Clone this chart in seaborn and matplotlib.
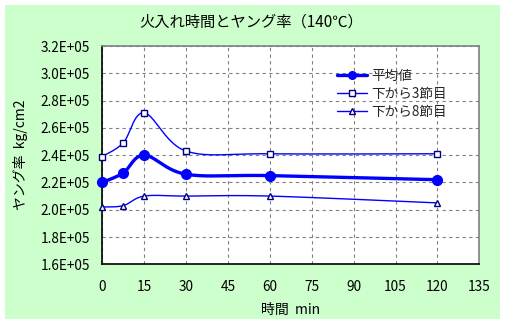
import numpy as np
import pandas as pd
import seaborn as sns
import matplotlib
matplotlib.use("Agg")
import matplotlib.pyplot as plt
from matplotlib.lines import Line2D
from matplotlib.patches import Rectangle
from matplotlib.ticker import FuncFormatter, MultipleLocator

# Firing time (min) and Young's modulus (kg/cm2)
times = [0, 7.5, 15, 30, 60, 120]
mean_vals = [2.20e5, 2.27e5, 2.40e5, 2.26e5, 2.25e5, 2.22e5]
node3_vals = [2.39e5, 2.49e5, 2.71e5, 2.43e5, 2.41e5, 2.41e5]
node8_vals = [2.02e5, 2.03e5, 2.10e5, 2.10e5, 2.10e5, 2.05e5]
series_names = ["平均値", "下から3節目", "下から8節目"]

title = "火入れ時間とヤング率（140℃）"
xlabel = "時間  min"
ylabel = "ヤング率  kg/cm2"

XMIN, XMAX = 0, 135
YMIN, YMAX = 1.6e5, 3.2e5

sns.set_theme(style="white")
plt.rcParams["font.family"] = ["Noto Sans CJK JP", "DejaVu Sans"]


def smooth(xs, ys, n=30):
    """Cubic Bezier smoothing through the given points (Catmull-Rom style),
    computed in normalised axis space."""
    px = (np.asarray(xs, float) - XMIN) / (XMAX - XMIN) * 1.73
    py = (np.asarray(ys, float) - YMIN) / (YMAX - YMIN)
    pts = np.column_stack([px, py])
    m = len(pts)
    out = []
    for i in range(m - 1):
        p0 = pts[i - 1] if i > 0 else pts[i]
        p1 = pts[i]
        p2 = pts[i + 1]
        p3 = pts[i + 2] if i + 2 < m else pts[i + 1]
        c1 = p1 + (p2 - p0) / 6.0
        c2 = p2 - (p3 - p1) / 6.0
        t = np.linspace(0, 1, n)[:, None]
        seg = ((1 - t) ** 3) * p1 + 3 * ((1 - t) ** 2) * t * c1 + 3 * (1 - t) * t ** 2 * c2 + t ** 3 * p2
        out.append(seg if i == 0 else seg[1:])
    c = np.vstack(out)
    return c[:, 0] / 1.73 * (XMAX - XMIN) + XMIN, c[:, 1] * (YMAX - YMIN) + YMIN


W, H = 506, 324
fig = plt.figure(figsize=(W / 100, H / 100), dpi=100)
fig.patch.set_facecolor("white")
fig.patches.append(Rectangle((5 / W, 5 / H), 495 / W, 314 / H, transform=fig.transFigure,
                             facecolor="#CCFFCC", edgecolor="none", zorder=-10))

ax = fig.add_axes([102.3 / W, (H - 264.3) / H, 377 / W, 218.3 / H])
ax.set_zorder(1)
ax.set_facecolor("white")

styles = {
    "平均値": dict(lw=2.4, marker="o", ms=7, mfc="#0000FF", mec="#0000FF", lms=5.5),
    "下から3節目": dict(lw=1.0, marker="s", ms=5, mfc="white", mec="#000080", lms=4.5),
    "下から8節目": dict(lw=1.0, marker="^", ms=5, mfc="white", mec="#000080", lms=4.5),
}

curves = []
points = []
for name, vals in zip(series_names, [mean_vals, node3_vals, node8_vals]):
    sx, sy = smooth(times, vals)
    curves.append(pd.DataFrame({"x": sx, "y": sy, "series": name}))
    points.append(pd.DataFrame({"x": times, "y": vals, "series": name}))
curve_df = pd.concat(curves, ignore_index=True)
point_df = pd.concat(points, ignore_index=True)

handles = []
for name in series_names:
    st = styles[name]
    sub = curve_df[curve_df["series"] == name]
    sns.lineplot(data=sub, x="x", y="y", sort=False, color="#0000FF", lw=st["lw"],
                 ax=ax, legend=False, zorder=3)
    psub = point_df[point_df["series"] == name]
    ax.plot(psub["x"], psub["y"], ls="none", marker=st["marker"], ms=st["ms"],
            mfc=st["mfc"], mec=st["mec"], mew=1.0, zorder=4, clip_on=False)
    handles.append(Line2D([], [], color="#0000FF", lw=st["lw"], marker=st["marker"],
                          ms=st["lms"], mfc=st["mfc"], mec=st["mec"], mew=1.0))

ax.set_xlim(XMIN, XMAX)
ax.set_ylim(YMIN, YMAX)
ax.xaxis.set_major_locator(MultipleLocator(15))
ax.yaxis.set_major_locator(MultipleLocator(0.2e5))
ax.yaxis.set_major_formatter(FuncFormatter(lambda v, p: f"{v:.1E}"))

ax.grid(True, color="#808080", ls=(0, (3, 3)), lw=0.8)
ax.set_axisbelow(True)
for side in ["left", "bottom"]:
    ax.spines[side].set_color("black")
    ax.spines[side].set_linewidth(1.2)
for side in ["top", "right"]:
    ax.spines[side].set_color("#808080")
    ax.spines[side].set_linewidth(1.2)

ax.tick_params(axis="both", direction="in", length=4, width=1, color="black",
               labelsize=9.8, labelcolor="black")
ax.tick_params(axis="x", pad=11)
ax.tick_params(axis="y", pad=9)

ax.set_xlabel(xlabel, fontsize=10, labelpad=7, color="black")
ax.set_ylabel(ylabel, fontsize=10, labelpad=9, color="black")

fig.text(250.7 / W, 1 - 22 / H, title, ha="center", va="center", fontsize=11, color="black")

leg = ax.legend(handles, series_names, loc="upper left", bbox_to_anchor=(330 / W, 1 - 62 / H),
                bbox_transform=fig.transFigure, frameon=False, fontsize=9.8,
                handlelength=2.2, handletextpad=0.35, labelspacing=0.3, borderpad=0)

fig.savefig("out.png", dpi=100, facecolor=fig.get_facecolor())
